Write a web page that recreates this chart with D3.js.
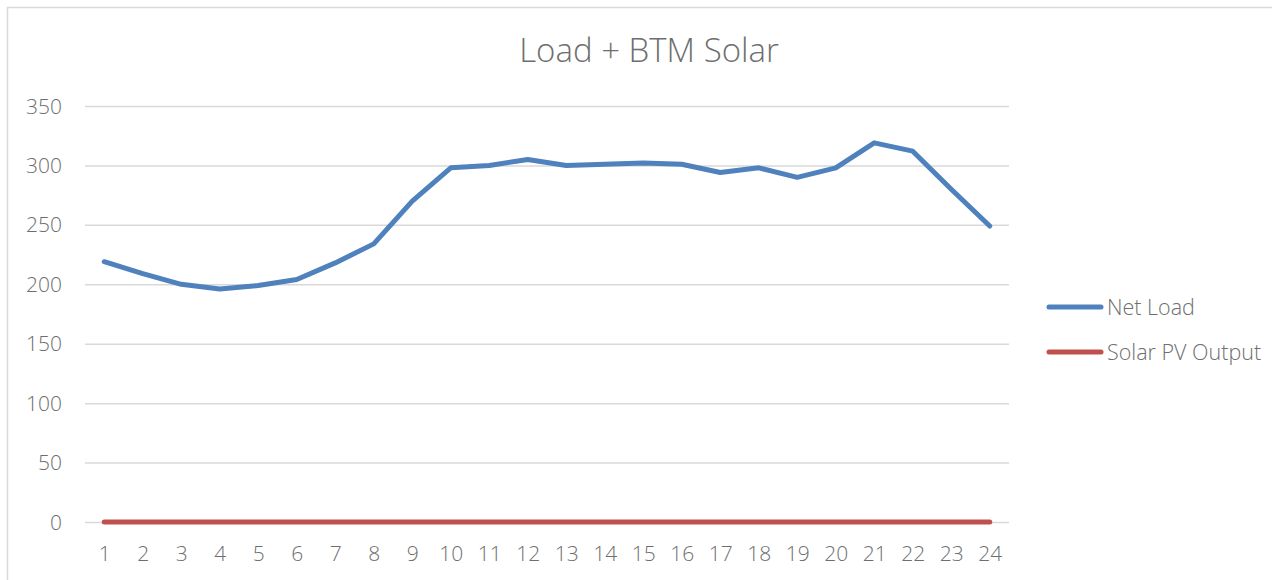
<!DOCTYPE html>
<html><head><meta charset="utf-8">
<script src="https://cdn.jsdelivr.net/npm/d3@7"></script>
<style>
html,body{margin:0;padding:0;background:#fff;}
text{font-family:"Open Sans",sans-serif;}
</style></head>
<body><svg id="c" width="1272" height="580"></svg>
<script>
const hours = [1,2,3,4,5,6,7,8,9,10,11,12,13,14,15,16,17,18,19,20,21,22,23,24];
const netLoad = [219,209,200,196,199,204,218,234,270,298,300,305,300,301,302,301,294,298,290,298,319,312,280,249];
const solarPV = [0,0,0,0,0,0,0,0,0,0,0,0,0,0,0,0,0,0,0,0,0,0,0,0];
const yTicks = [0,50,100,150,200,250,300,350];
const seriesNames = ["Net Load","Solar PV Output"];
const seriesColors = ["#4f81bd","#c0504d"];
const title = "Load + BTM Solar";

const svg = d3.select("#c");
svg.append("rect").attr("x",7.5).attr("y",7.5).attr("width",1300).attr("height",620)
  .attr("fill","#fff").attr("stroke","#d9d9d9").attr("stroke-width",1.5);

const L=85,R=1009,T=106,B=522;
const x = d3.scalePoint().domain(hours).range([L,R]).padding(0.5);
const y = d3.scaleLinear().domain([0,350]).range([B,T]);
const txt = "#6e6e6e";

const gy = svg.append("g").attr("transform",`translate(${L},0)`)
  .call(d3.axisLeft(y).tickValues(yTicks).tickSize(-(R-L)).tickPadding(23));
gy.select(".domain").remove();
gy.selectAll(".tick line").attr("stroke","#d9d9d9").attr("stroke-width",1.5);
gy.selectAll(".tick text").attr("fill",txt).style("font-size","21px").style("font-weight","300").attr("dy","0.34em");

const gx = svg.append("g").attr("transform",`translate(0,${B})`)
  .call(d3.axisBottom(x).tickSize(0).tickPadding(24));
gx.select(".domain").remove();
gx.selectAll(".tick text").attr("fill",txt).style("font-size","21px").style("font-weight","300");

const line = d3.line().x((d,i)=>x(hours[i])).y(d=>y(d));
[netLoad, solarPV].forEach((s,k)=>{
  svg.append("path").datum(s).attr("d",line).attr("fill","none")
    .attr("stroke",seriesColors[k]).attr("stroke-width",5)
    .attr("stroke-linejoin","round").attr("stroke-linecap","round");
});

svg.append("text").attr("x",649).attr("y",62).attr("text-anchor","middle")
  .attr("fill",txt).style("font-size","33px").style("font-weight","300").text(title);

const lg = svg.append("g");
seriesNames.forEach((n,k)=>{
  const yy = 307 + k*45;
  lg.append("line").attr("x1",1049).attr("x2",1101).attr("y1",yy).attr("y2",yy)
    .attr("stroke",seriesColors[k]).attr("stroke-width",5).attr("stroke-linecap","round");
  lg.append("text").attr("x",1107).attr("y",yy).attr("dy","0.35em")
    .attr("fill",txt).style("font-size","21.5px").style("font-weight","300").text(n);
});
</script></body></html>
